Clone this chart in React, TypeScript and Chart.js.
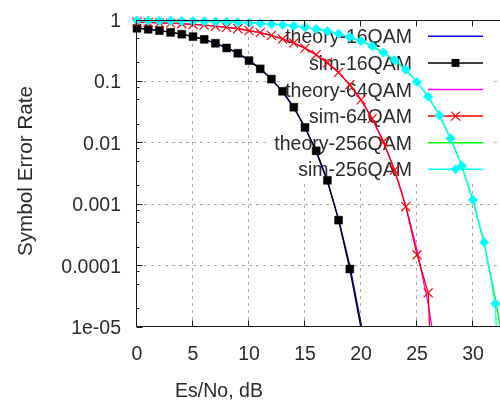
import React, { useEffect, useRef } from "react";
import { Chart, registerables } from "chart.js";

Chart.register(...registerables);

// ---------------- data ----------------
const esNoTheory16 = [0, 1, 2, 3, 4, 5, 6, 7, 8, 9, 10, 11, 12, 13, 14, 15, 16, 17, 18, 19, 20, 21];
const serTheory16 = [0.741, 0.71, 0.675, 0.635, 0.589, 0.538, 0.481, 0.419, 0.354, 0.288, 0.222, 0.1615, 0.1093, 0.0674, 0.0371, 0.0178, 0.00716, 0.00232, 0.000572, 0.000101, 0.0000116, 0.00000083];

const esNoSim16 = [0, 1, 2, 3, 4, 5, 6, 7, 8, 9, 10, 11, 12, 13, 14, 15, 16, 17, 18, 19, 20];
const serSim16 = [0.733, 0.706, 0.672, 0.628, 0.587, 0.536, 0.484, 0.418, 0.35, 0.287, 0.218, 0.16, 0.109, 0.069, 0.038, 0.0178, 0.0074, 0.00245, 0.00055, 0.000088, 0.0000096];

const esNoTheory64 = [0, 1, 2, 3, 4, 5, 6, 7, 8, 9, 10, 11, 12, 13, 14, 15, 16, 17, 18, 19, 20, 21, 22, 23, 24, 25, 26, 27];
const serTheory64 = [0.924, 0.913, 0.901, 0.887, 0.869, 0.848, 0.824, 0.795, 0.761, 0.721, 0.674, 0.62, 0.561, 0.494, 0.422, 0.346, 0.271, 0.203, 0.1397, 0.0886, 0.0503, 0.0249, 0.01029, 0.00359, 0.000949, 0.000182, 0.0000234, 0.0000018];

const esNoSim64 = [0, 1, 2, 3, 4, 5, 6, 7, 8, 9, 10, 11, 12, 13, 14, 15, 16, 17, 18, 19, 20, 21, 22, 23, 24, 25, 26, 27];
const serSim64 = [0.926, 0.912, 0.899, 0.888, 0.87, 0.846, 0.825, 0.793, 0.76, 0.722, 0.672, 0.622, 0.562, 0.49, 0.421, 0.348, 0.272, 0.201, 0.14, 0.088, 0.05, 0.0248, 0.0104, 0.0036, 0.00091, 0.00015, 0.000036, 0.000000001];

const esNoTheory256 = [0, 1, 2, 3, 4, 5, 6, 7, 8, 9, 10, 11, 12, 13, 14, 15, 16, 17, 18, 19, 20, 21, 22, 23, 24, 25, 26, 27, 28, 29, 30, 31, 32, 33];
const serTheory256 = [0.979, 0.977, 0.973, 0.969, 0.964, 0.958, 0.95, 0.941, 0.93, 0.917, 0.901, 0.882, 0.859, 0.831, 0.798, 0.758, 0.712, 0.658, 0.597, 0.528, 0.453, 0.375, 0.297, 0.222, 0.154, 0.0984, 0.0563, 0.0282, 0.01187, 0.00419, 0.00113, 0.000223, 0.0000294, 0.00000237];

const esNoSim256 = [0, 1, 2, 3, 4, 5, 6, 7, 8, 9, 10, 11, 12, 13, 14, 15, 16, 17, 18, 19, 20, 21, 22, 23, 24, 25, 26, 27, 28, 29, 30, 31, 32, 33];
const serSim256 = [0.98, 0.976, 0.974, 0.968, 0.965, 0.957, 0.951, 0.94, 0.931, 0.916, 0.902, 0.881, 0.86, 0.83, 0.799, 0.757, 0.713, 0.657, 0.598, 0.527, 0.454, 0.373, 0.296, 0.222, 0.155, 0.098, 0.0565, 0.028, 0.0118, 0.00421, 0.00118, 0.00024, 0.000024, 0.0000000001];

const seriesNames = ["theory-16QAM", "sim-16QAM", "theory-64QAM", "sim-64QAM", "theory-256QAM", "sim-256QAM"];

const xTickValues = [0, 5, 10, 15, 20, 25, 30, 35, 40];
const xTickLabels = ["0", "5", "10", "15", "20", "25", "30", "35", "40"];
const yTickValues = [1, 0.1, 0.01, 0.001, 0.0001, 0.00001];
const yTickLabels = ["1", "0.1", "0.01", "0.001", "0.0001", "1e-05"];
const yMinorFactors = [2, 5, 8];
const xTitle = "Es/No, dB";
const yTitle = "Symbol Error Rate";

// ---------------- styles ----------------
const FONT = '19.5px "Liberation Sans", Arial, sans-serif';
const TEXT_COLOR = "#2b2b2b";
const styles = [
  { color: "#0000ff", marker: "none" },
  { color: "#000000", marker: "rect" },
  { color: "#ff00ff", marker: "none" },
  { color: "#ff0000", marker: "crossRot" },
  { color: "#00ff00", marker: "none" },
  { color: "#00ffff", marker: "rectRot" },
];
const markerRadius: Record<string, number> = { rect: 5.6, crossRot: 6.4, rectRot: 4.8, none: 0 };

const seriesX = [esNoTheory16, esNoSim16, esNoTheory64, esNoSim64, esNoTheory256, esNoSim256];
const seriesY = [serTheory16, serSim16, serTheory64, serSim64, serTheory256, serSim256];

function drawMarker(ctx: CanvasRenderingContext2D, kind: string, x: number, y: number, color: string) {
  ctx.save();
  ctx.fillStyle = color;
  ctx.strokeStyle = color;
  ctx.lineWidth = 1.2;
  if (kind === "rect") {
    const s = markerRadius.rect * Math.SQRT1_2;
    ctx.fillRect(x - s, y - s, 2 * s, 2 * s);
  } else if (kind === "crossRot") {
    const o = markerRadius.crossRot * Math.SQRT1_2;
    ctx.beginPath();
    ctx.moveTo(x - o, y - o);
    ctx.lineTo(x + o, y + o);
    ctx.moveTo(x - o, y + o);
    ctx.lineTo(x + o, y - o);
    ctx.stroke();
  } else if (kind === "rectRot") {
    const r = markerRadius.rectRot;
    ctx.beginPath();
    ctx.moveTo(x - r, y);
    ctx.lineTo(x, y - r);
    ctx.lineTo(x + r, y);
    ctx.lineTo(x, y + r);
    ctx.closePath();
    ctx.fill();
  }
  ctx.restore();
}

const gnuplotPlugin = {
  id: "gnuplotFrame",
  beforeDatasetsDraw(chart: any) {
    const { ctx, chartArea: a } = chart;
    const xs = chart.scales.x;
    const ys = chart.scales.y;
    ctx.save();
    // dotted grid
    ctx.strokeStyle = "#a8a8a8";
    ctx.lineWidth = 1;
    ctx.setLineDash([3, 4]);
    xTickValues.forEach((v) => {
      if (v <= xs.min || v >= xs.max) return;
      const px = Math.round(xs.getPixelForValue(v)) - 0.5;
      ctx.beginPath();
      ctx.moveTo(px, a.bottom);
      ctx.lineTo(px, a.top);
      ctx.stroke();
    });
    yTickValues.forEach((v) => {
      if (v >= ys.max || v <= ys.min) return;
      const py = Math.floor(ys.getPixelForValue(v)) + 0.5;
      ctx.beginPath();
      ctx.moveTo(a.left, py);
      ctx.lineTo(a.right, py);
      ctx.stroke();
    });
    ctx.setLineDash([]);

    // key (opaque rows, text, samples)
    ctx.font = FONT;
    const textRight = 412;
    const rowTop = 23;
    const rowH = 26.6;
    const boxRight = 493;
    const sampleL = 428;
    const sampleR = 483;
    seriesNames.forEach((name, i) => {
      const cy = rowTop + rowH * (i + 0.5);
      const w = ctx.measureText(name).width;
      const left = textRight - w - 5;
      ctx.fillStyle = "#ffffff";
      ctx.fillRect(left, cy - rowH / 2, boxRight - left, rowH);
    });
    seriesNames.forEach((name, i) => {
      const cy = rowTop + rowH * (i + 0.5);
      ctx.fillStyle = TEXT_COLOR;
      ctx.textAlign = "right";
      ctx.textBaseline = "alphabetic";
      ctx.fillText(name, textRight, cy + 7);
      const st = styles[i];
      ctx.strokeStyle = st.color;
      ctx.lineWidth = 1.5;
      ctx.beginPath();
      ctx.moveTo(sampleL, cy);
      ctx.lineTo(sampleR, cy);
      ctx.stroke();
      if (st.marker !== "none") drawMarker(ctx, st.marker, (sampleL + sampleR) / 2, cy, st.color);
    });
    ctx.restore();
  },
  afterDatasetsDraw(chart: any) {
    const { ctx, chartArea: a } = chart;
    const xs = chart.scales.x;
    const ys = chart.scales.y;
    ctx.save();
    ctx.strokeStyle = "#1a1a1a";
    ctx.lineWidth = 1;
    const L = a.left - 0.5;
    const T = a.top + 0.5;
    const B = a.bottom - 0.5;
    ctx.beginPath();
    ctx.moveTo(a.right, T);
    ctx.lineTo(L, T);
    ctx.lineTo(L, B);
    ctx.lineTo(a.right, B);
    ctx.stroke();

    // x ticks (bottom + mirrored top)
    ctx.beginPath();
    xTickValues.forEach((v) => {
      const px = Math.round(xs.getPixelForValue(v)) - 0.5;
      ctx.moveTo(px, B);
      ctx.lineTo(px, B - 6);
      ctx.moveTo(px, T);
      ctx.lineTo(px, T + 6);
    });
    // y ticks (major + minor)
    yTickValues.forEach((v) => {
      const py = Math.floor(ys.getPixelForValue(v)) + 0.5;
      ctx.moveTo(L, py);
      ctx.lineTo(L + 6, py);
      if (v < 1) {
        yMinorFactors.forEach((f) => {
          const mv = v * f;
          const my = Math.floor(ys.getPixelForValue(mv)) + 0.5;
          ctx.moveTo(L, my);
          ctx.lineTo(L + 3, my);
        });
      }
    });
    ctx.stroke();

    // tick labels
    ctx.font = FONT;
    ctx.fillStyle = TEXT_COLOR;
    ctx.textBaseline = "alphabetic";
    ctx.textAlign = "right";
    yTickValues.forEach((v, i) => {
      const py = ys.getPixelForValue(v);
      ctx.fillText(yTickLabels[i], 121, py + 7);
    });
    ctx.textAlign = "center";
    xTickValues.forEach((v, i) => {
      const px = xs.getPixelForValue(v);
      ctx.fillText(xTickLabels[i], px, 360);
    });

    // axis titles
    ctx.fillText(xTitle, 219, 397);
    ctx.save();
    ctx.translate(31.5, 171);
    ctx.rotate(-Math.PI / 2);
    const w = ctx.measureText(yTitle).width;
    ctx.scale(170 / w, 1);
    ctx.textAlign = "center";
    ctx.fillText(yTitle, 0, 0);
    ctx.restore();
    ctx.restore();
  },
};

export default function App() {
  const canvasRef = useRef<HTMLCanvasElement | null>(null);

  useEffect(() => {
    if (!canvasRef.current) return;
    const datasets = seriesNames.map((name, i) => {
      const st = styles[i];
      const r = markerRadius[st.marker];
      return {
        label: name,
        data: seriesX[i].map((x, j) => ({ x, y: seriesY[i][j] })),
        borderColor: st.color,
        backgroundColor: st.color,
        borderWidth: 1.3,
        pointStyle: st.marker === "none" ? "circle" : st.marker,
        pointRadius: (c: any) => (r === 0 || !c.raw || c.raw.y < 1e-5 ? 0 : r),
        pointBackgroundColor: st.color,
        pointBorderColor: st.color,
        pointBorderWidth: st.marker === "crossRot" ? 1.2 : 0.5,
        tension: 0,
        order: seriesNames.length - 1 - i,
        clip: { left: 10, top: 10, right: 10, bottom: 0 },
      };
    });
    const chart = new Chart(canvasRef.current, {
      type: "line",
      data: { datasets: datasets as any },
      options: {
        animation: false,
        responsive: false,
        devicePixelRatio: 1,
        events: [],
        layout: { padding: { left: 137, top: 20, right: 15, bottom: 75 } },
        plugins: { legend: { display: false }, tooltip: { enabled: false } },
        scales: {
          x: { type: "linear", min: 0, max: 40, display: false },
          y: { type: "logarithmic", min: 0.00001, max: 1, display: false },
        },
      },
      plugins: [gnuplotPlugin as any],
    });
    return () => chart.destroy();
  }, []);

  return (
    <div
      style={{
        position: "fixed",
        left: 0,
        top: 0,
        width: 500,
        height: 402,
        overflow: "hidden",
        background: "#ffffff",
      }}
    >
      <canvas ref={canvasRef} width={600} height={402} style={{ display: "block", width: 600, height: 402 }} />
    </div>
  );
}
